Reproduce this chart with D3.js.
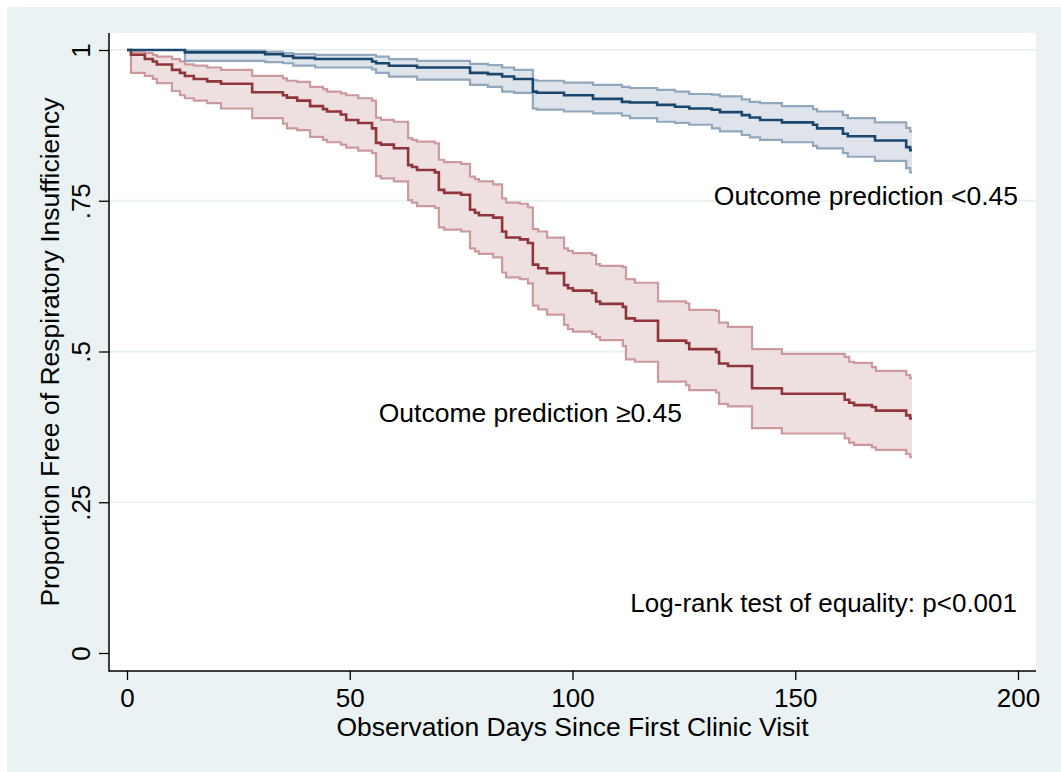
<!DOCTYPE html>
<html>
<head>
<meta charset="utf-8">
<script src="https://cdn.jsdelivr.net/npm/d3@7"></script>
<style>
  html, body { margin: 0; padding: 0; background: #ffffff; }
  svg { display: block; }
  text { font-family: "Liberation Sans", Arial, Helvetica, sans-serif; fill: #000; }
</style>
</head>
<body>
<svg id="chart" width="1061" height="772"></svg>
<script>
// ---------------- DATA ----------------
const xTicks = [0, 50, 100, 150, 200];
const xTickLabels = ["0", "50", "100", "150", "200"];
const yTicks = [0, 0.25, 0.5, 0.75, 1];
const yTickLabels = ["0", ".25", ".5", ".75", "1"];
const endDay = 176.2;

// Outcome prediction >= 0.45 (red)
const redDays  = [0, 0.9, 4.0, 5.8, 6.7, 10.1, 11.9, 13.0, 15.0, 18.0, 21.1, 28.1, 35.0, 35.9, 38.2, 41.1, 44.0, 44.9, 48.0, 49.2, 51.9, 55.0, 55.9, 57.0, 59.9, 63.1, 64.0, 65.1, 69.1, 70.0, 71.2, 75.0, 77.0, 78.1, 79.0, 82.2, 84.2, 85.1, 88.2, 90.0, 91.1, 92.3, 94.3, 98.1, 99.0, 100.1, 104.4, 105.3, 106.2, 111.3, 112.0, 114.0, 119.2, 125.5, 126.2, 132.2, 132.9, 134.9, 140.3, 147.0, 161.1, 162.1, 163.2, 167.2, 168.1, 174.9, 175.8];
const redSurv  = [1, 0.992, 0.985, 0.981, 0.976, 0.967, 0.962, 0.957, 0.952, 0.948, 0.944, 0.930, 0.925, 0.921, 0.916, 0.907, 0.902, 0.898, 0.893, 0.884, 0.879, 0.870, 0.846, 0.843, 0.837, 0.809, 0.806, 0.801, 0.797, 0.768, 0.763, 0.760, 0.735, 0.730, 0.726, 0.722, 0.699, 0.689, 0.686, 0.680, 0.644, 0.638, 0.630, 0.610, 0.605, 0.601, 0.597, 0.583, 0.579, 0.574, 0.555, 0.551, 0.518, 0.514, 0.504, 0.499, 0.480, 0.476, 0.439, 0.430, 0.420, 0.415, 0.411, 0.408, 0.402, 0.394, 0.389];
const redUpper = [1, 0.996, 0.995, 0.992, 0.989, 0.985, 0.981, 0.976, 0.974, 0.971, 0.967, 0.957, 0.953, 0.949, 0.947, 0.939, 0.935, 0.931, 0.928, 0.925, 0.920, 0.916, 0.888, 0.884, 0.881, 0.854, 0.851, 0.848, 0.845, 0.818, 0.814, 0.811, 0.790, 0.786, 0.782, 0.777, 0.754, 0.747, 0.745, 0.739, 0.703, 0.699, 0.689, 0.671, 0.667, 0.663, 0.660, 0.645, 0.642, 0.640, 0.620, 0.614, 0.583, 0.580, 0.569, 0.567, 0.548, 0.541, 0.504, 0.496, 0.491, 0.483, 0.481, 0.474, 0.468, 0.461, 0.456];
const redLower = [1, 0.962, 0.957, 0.952, 0.945, 0.932, 0.925, 0.920, 0.916, 0.912, 0.903, 0.887, 0.878, 0.870, 0.867, 0.856, 0.851, 0.847, 0.843, 0.838, 0.833, 0.829, 0.791, 0.787, 0.782, 0.751, 0.747, 0.741, 0.738, 0.706, 0.702, 0.699, 0.671, 0.666, 0.662, 0.656, 0.631, 0.623, 0.620, 0.613, 0.576, 0.570, 0.561, 0.544, 0.537, 0.533, 0.529, 0.524, 0.519, 0.509, 0.487, 0.483, 0.450, 0.444, 0.436, 0.432, 0.413, 0.409, 0.373, 0.364, 0.356, 0.349, 0.345, 0.341, 0.337, 0.330, 0.325];

// Outcome prediction < 0.45 (blue)
const blueDays  = [0, 13.0, 31.0, 35.0, 37.3, 42.2, 55.0, 55.9, 58.8, 65.1, 77.0, 81.0, 84.2, 86.9, 91.1, 92.0, 98.1, 104.6, 111.1, 112.9, 119.0, 123.0, 126.2, 131.3, 133.1, 138.0, 139.8, 142.1, 147.0, 154.0, 154.9, 160.7, 161.8, 167.9, 174.9, 175.8];
const blueSurv  = [1, 0.996, 0.993, 0.990, 0.987, 0.985, 0.981, 0.978, 0.974, 0.971, 0.962, 0.960, 0.956, 0.952, 0.931, 0.929, 0.925, 0.919, 0.914, 0.913, 0.909, 0.906, 0.903, 0.901, 0.897, 0.892, 0.888, 0.884, 0.880, 0.876, 0.870, 0.861, 0.857, 0.850, 0.839, 0.834];
const blueUpper = [1, 0.999, 0.997, 0.995, 0.993, 0.992, 0.992, 0.989, 0.985, 0.982, 0.977, 0.975, 0.971, 0.967, 0.950, 0.949, 0.946, 0.942, 0.939, 0.937, 0.934, 0.931, 0.927, 0.926, 0.923, 0.918, 0.914, 0.912, 0.907, 0.902, 0.898, 0.892, 0.887, 0.880, 0.871, 0.865];
const blueLower = [1, 0.982, 0.980, 0.978, 0.974, 0.971, 0.968, 0.962, 0.956, 0.951, 0.942, 0.939, 0.931, 0.929, 0.903, 0.901, 0.898, 0.895, 0.891, 0.887, 0.881, 0.879, 0.876, 0.870, 0.865, 0.859, 0.855, 0.851, 0.847, 0.841, 0.837, 0.829, 0.823, 0.816, 0.804, 0.797];

const labelLow = "Outcome prediction <0.45";
const labelHigh = "Outcome prediction \u22650.45";
const noteText = "Log-rank test of equality: p<0.001";
const yTitle = "Proportion Free of Respiratory Insufficiency";
const xTitle = "Observation Days Since First Clinic Visit";

// ---------------- DRAW ----------------
const svg = d3.select("#chart");
const W = 1061, H = 772;
const plotL = 109, plotR = 1036, plotT = 33, plotB = 671;

const x = d3.scaleLinear().domain([0, 200]).range([127, 1018]);
const y = d3.scaleLinear().domain([0, 1]).range([653, 50]);

svg.append("rect").attr("width", W).attr("height", H).attr("fill", "#ffffff");
svg.append("rect").attr("x", 7).attr("y", 7).attr("width", W - 7).attr("height", H - 7).attr("fill", "#eaf2f3");
svg.append("rect").attr("x", plotL).attr("y", plotT).attr("width", plotR - plotL).attr("height", plotB - plotT).attr("fill", "#ffffff");

// gridlines
svg.append("g").selectAll("line").data(yTicks.filter(v => v > 0)).join("line")
  .attr("x1", plotL).attr("x2", plotR)
  .attr("y1", d => y(d)).attr("y2", d => y(d))
  .attr("stroke", "#eaf2f3").attr("stroke-width", 2);

function build(days, s, lo, hi) {
  const pts = days.map((d, i) => ({t: d, s: s[i], lo: lo[i], hi: hi[i]}));
  const last = pts[pts.length - 1];
  pts.push({t: endDay, s: last.s, lo: last.lo, hi: last.hi});
  return pts;
}
const red = build(redDays, redSurv, redLower, redUpper);
const blue = build(blueDays, blueSurv, blueLower, blueUpper);

const area = d3.area().curve(d3.curveStepAfter).x(d => x(d.t)).y0(d => y(d.lo)).y1(d => y(d.hi));
const lineS = d3.line().curve(d3.curveStepAfter).x(d => x(d.t)).y(d => y(d.s));
const lineLo = d3.line().curve(d3.curveStepAfter).x(d => x(d.t)).y(d => y(d.lo));
const lineHi = d3.line().curve(d3.curveStepAfter).x(d => x(d.t)).y(d => y(d.hi));

function drawGroup(pts, fill, ciStroke, mainStroke) {
  const g = svg.append("g");
  g.append("path").datum(pts).attr("d", area).attr("fill", fill).attr("stroke", "none");
  g.append("path").datum(pts).attr("d", lineLo).attr("fill", "none").attr("stroke", ciStroke).attr("stroke-width", 2.2);
  g.append("path").datum(pts).attr("d", lineHi).attr("fill", "none").attr("stroke", ciStroke).attr("stroke-width", 2.2);
  return g;
}
const gRed = drawGroup(red, "#eee0e1", "#cc9a9d");
const gBlue = drawGroup(blue, "#dfe4ea", "#91a7bc");
svg.append("path").datum(red).attr("d", lineS).attr("fill", "none").attr("stroke", "#90353b").attr("stroke-width", 2.6);
svg.append("path").datum(blue).attr("d", lineS).attr("fill", "none").attr("stroke", "#1a476f").attr("stroke-width", 2.6);

// axes
const yAxis = d3.axisLeft(y).tickValues(yTicks).tickSize(10).tickFormat((d, i) => yTickLabels[i]);
const gy = svg.append("g").attr("transform", `translate(${plotL},0)`).call(yAxis);
gy.select(".domain").remove();
gy.selectAll(".tick line").attr("stroke", "#000").attr("stroke-width", 1.3);
gy.selectAll(".tick text")
  .attr("transform", "rotate(-90)")
  .attr("x", 0).attr("y", -19).attr("dy", 0)
  .attr("text-anchor", "middle")
  .style("font-size", "26px").style("font-family", '"Liberation Sans", Arial, Helvetica, sans-serif');

const xAxis = d3.axisBottom(x).tickValues(xTicks).tickSize(9).tickFormat((d, i) => xTickLabels[i]);
const gx = svg.append("g").attr("transform", `translate(0,${plotB})`).call(xAxis);
gx.select(".domain").remove();
gx.selectAll(".tick line").attr("stroke", "#000").attr("stroke-width", 1.3);
gx.selectAll(".tick text").attr("y", 36).attr("dy", 0)
  .style("font-size", "26px").style("font-family", '"Liberation Sans", Arial, Helvetica, sans-serif');

svg.append("line").attr("x1", plotL).attr("x2", plotL).attr("y1", plotT).attr("y2", plotB + 0.7)
  .attr("stroke", "#000").attr("stroke-width", 1.5);
svg.append("line").attr("x1", plotL).attr("x2", plotR).attr("y1", plotB).attr("y2", plotB)
  .attr("stroke", "#000").attr("stroke-width", 1.5);

// titles & labels
svg.append("text").attr("transform", "translate(59,352) rotate(-90)")
  .attr("text-anchor", "middle").style("font-size", "26.5px").text(yTitle);
svg.append("text").attr("x", (plotL + plotR) / 2).attr("y", 736)
  .attr("text-anchor", "middle").style("font-size", "26.5px").text(xTitle);

svg.append("text").attr("x", 1018).attr("y", 205).attr("text-anchor", "end").style("font-size", "26.5px").text(labelLow);
svg.append("text").attr("x", 682).attr("y", 422).attr("text-anchor", "end").style("font-size", "26.5px").text(labelHigh);
svg.append("text").attr("x", 1017).attr("y", 612).attr("text-anchor", "end").style("font-size", "26px").text(noteText);
</script>
</body>
</html>
